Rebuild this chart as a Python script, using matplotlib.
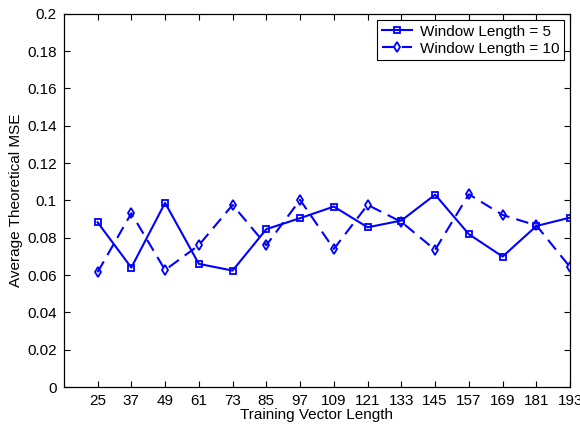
import matplotlib
matplotlib.use("Agg")
import matplotlib.pyplot as plt

plt.rcParams['font.family'] = ['Liberation Sans', 'DejaVu Sans']

train_len = [25, 37, 49, 61, 73, 85, 97, 109, 121, 133, 145, 157, 169, 181, 193]
mse_w5 = [0.0883, 0.0640, 0.0987, 0.0660, 0.0624, 0.0846, 0.0905, 0.0967,
          0.0856, 0.0892, 0.1031, 0.0819, 0.0699, 0.0863, 0.0908]
mse_w10 = [0.0615, 0.0931, 0.0627, 0.0760, 0.0976, 0.0760, 0.1003, 0.0740,
           0.0976, 0.0885, 0.0735, 0.1033, 0.0922, 0.0866, 0.0642]
labels = ['Window Length = 5', 'Window Length = 10']

fig = plt.figure(figsize=(5.8, 4.25), dpi=100)
ax = fig.add_axes([0.110, 0.0894, 0.873, 0.878])

ax.plot(train_len, mse_w5, '-s', color='#0000ff', lw=1.5, ms=5,
        mfc='none', mew=1.3, label=labels[0])
ax.plot(train_len, mse_w10, '--d', color='#0000ff', lw=1.5, ms=5,
        mfc='none', mew=1.3, dashes=(6, 3.5), label=labels[1])

ax.set_xlim(13, 193)
ax.set_ylim(0, 0.2)
ax.set_xticks(train_len)
ax.set_yticks([0, 0.02, 0.04, 0.06, 0.08, 0.1, 0.12, 0.14, 0.16, 0.18, 0.2])
ax.set_yticklabels(['0', '0.02', '0.04', '0.06', '0.08', '0.1', '0.12',
                    '0.14', '0.16', '0.18', '0.2'])
ax.tick_params(direction='in', top=True, right=True, labelsize=11,
               length=4, width=0.8, pad=5)
for s in ax.spines.values():
    s.set_linewidth(0.9)

ax.set_xlabel('Training Vector Length', fontsize=11, labelpad=0)
ax.set_ylabel('Average Theoretical MSE', fontsize=11, labelpad=3)

leg = ax.legend(loc='upper right', fontsize=11, fancybox=False,
                edgecolor='black', framealpha=1, handlelength=2.0,
                borderpad=0.3, labelspacing=0.2, borderaxespad=0.4,
                handletextpad=0.5)
leg.get_frame().set_linewidth(0.8)

fig.savefig('out.png', dpi=100)
